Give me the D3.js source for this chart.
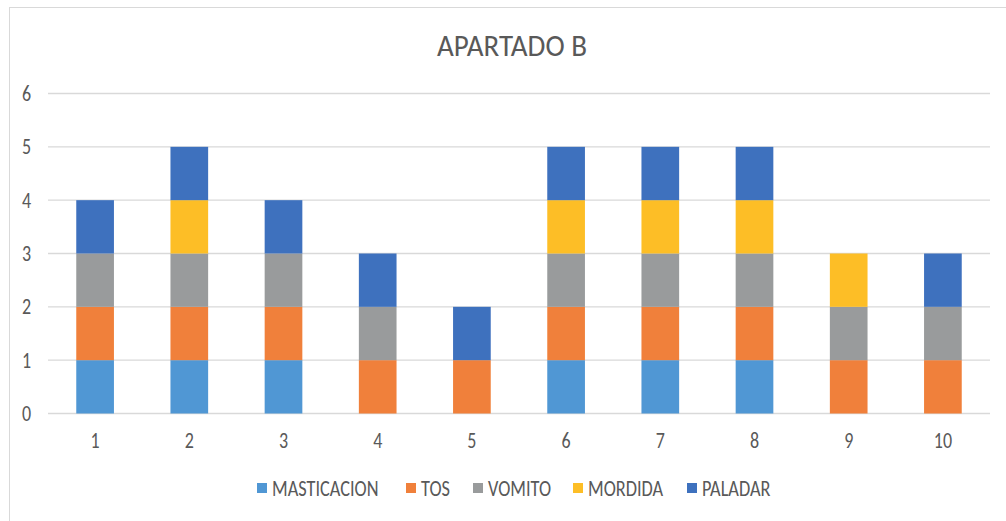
<!DOCTYPE html>
<html><head><meta charset="utf-8">
<script src="https://cdn.jsdelivr.net/npm/d3@7"></script>
<style>body{margin:0;background:#fff}svg{display:block}text{font-family:Carlito,"Open Sans","Liberation Sans",sans-serif}</style>
</head><body>
<svg id="c" width="1006" height="521"></svg>
<script>
const categories = ["1","2","3","4","5","6","7","8","9","10"];
const seriesNames = ["MASTICACION","TOS","VOMITO","MORDIDA","PALADAR"];
const masticacion = [1,1,1,0,0,1,1,1,0,0];
const tos         = [1,1,1,1,1,1,1,1,1,1];
const vomito      = [1,1,1,1,0,1,1,1,1,1];
const mordida     = [0,1,0,0,0,1,1,1,1,0];
const paladar     = [1,1,1,1,1,1,1,1,0,1];
const yTicks = [0,1,2,3,4,5,6];
const colors = ["#5097D4","#F0803B","#999B9C","#FDBE26","#3E71BE"];
const SY = 1.2; // vertical stretch of text as in the reference

const svg = d3.select("#c");
svg.append("rect").attr("x",9.5).attr("y",7.5).attr("width",1010).attr("height",520)
  .attr("fill","#fff").attr("stroke","#d9d9d9");

const x = d3.scaleBand().domain(categories).range([48,990]).paddingInner(0.6).paddingOuter(0.3);
const y = d3.scaleLinear().domain([0,6]).range([413.5,93.5]);

const rows = categories.map((c,i)=>({cat:c, MASTICACION:masticacion[i], TOS:tos[i], VOMITO:vomito[i], MORDIDA:mordida[i], PALADAR:paladar[i]}));
const stack = d3.stack().keys(seriesNames)(rows);

// gridlines
svg.append("g").selectAll("line").data(yTicks).join("line")
  .attr("x1",48).attr("x2",990).attr("y1",d=>y(d)).attr("y2",d=>y(d))
  .attr("stroke","#d9d9d9").attr("stroke-width",1.3);

// y labels
svg.append("g").selectAll("text").data(yTicks).join("text")
  .attr("transform",d=>`translate(31,${y(d)}) scale(1,${SY})`).attr("dy","0.35em").attr("text-anchor","end")
  .attr("font-size",18).attr("fill","#595959").text(d=>d);

// bars
svg.append("g").selectAll("g").data(stack).join("g")
  .attr("fill",(d,i)=>colors[i])
  .selectAll("rect").data(d=>d.filter(s=>s[1]-s[0]>0)).join("rect")
  .attr("x",d=>x(d.data.cat)).attr("width",x.bandwidth())
  .attr("y",d=>y(d[1])).attr("height",d=>y(d[0])-y(d[1]));

// x labels
svg.append("g").selectAll("text").data(categories).join("text")
  .attr("transform",d=>`translate(${x(d)+x.bandwidth()/2},440) scale(1,${SY})`).attr("dy","0.35em").attr("text-anchor","middle")
  .attr("font-size",18).attr("fill","#595959").text(d=>d);

// title
svg.append("text").attr("transform",`translate(512,45) scale(1,1.05)`).attr("dy","0.35em").attr("text-anchor","middle")
  .attr("font-size",29).attr("fill","#595959").text("APARTADO B");

// legend
const legX = [257,406,473,573,687];
const lg = svg.append("g").selectAll("g").data(seriesNames).join("g")
  .attr("transform",(d,i)=>`translate(${legX[i]},488)`);
lg.append("rect").attr("x",0).attr("y",-5).attr("width",10).attr("height",10).attr("fill",(d,i)=>colors[i]);
lg.append("text").attr("transform",`translate(15,0) scale(1,${SY})`).attr("dy","0.35em").attr("font-size",18.3).attr("fill","#595959").text(d=>d);
</script>
</body></html>
